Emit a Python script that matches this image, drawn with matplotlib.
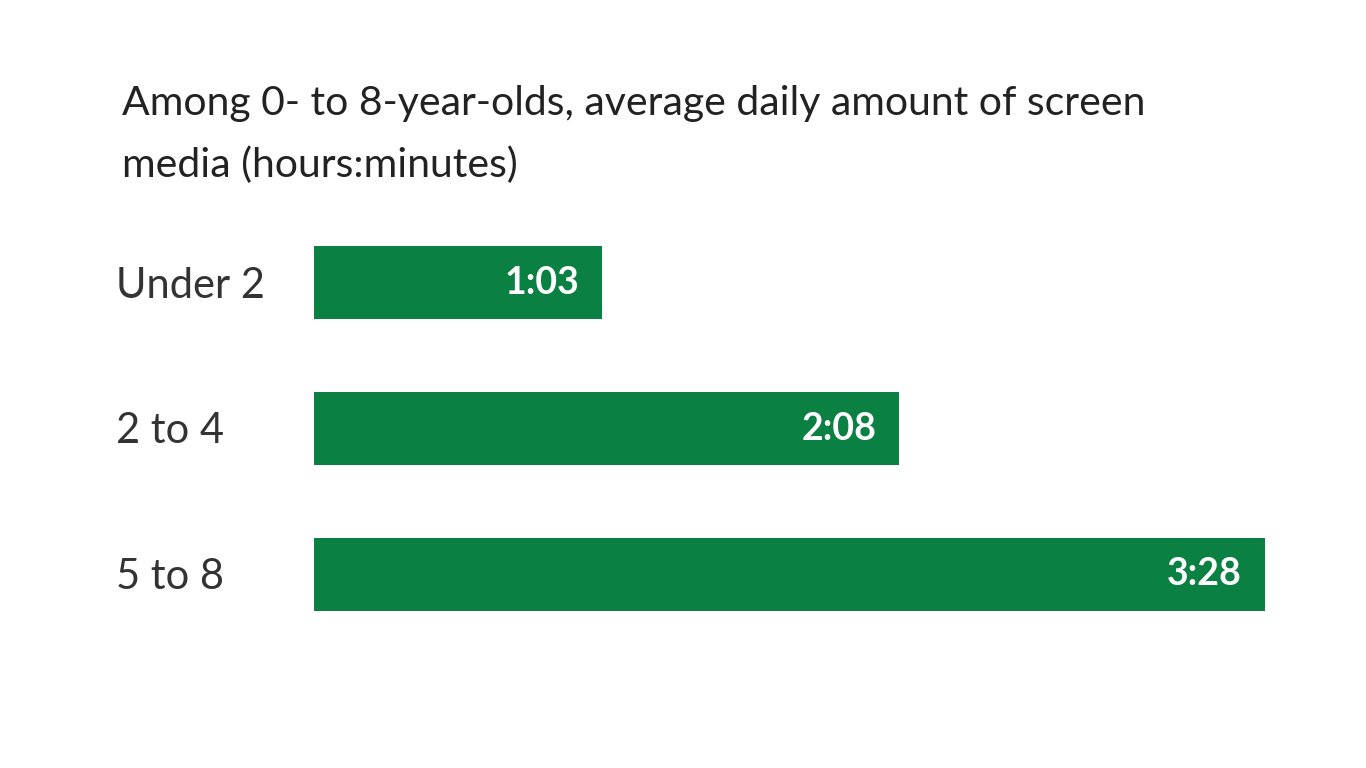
import matplotlib
matplotlib.use('Agg')
import matplotlib.pyplot as plt

# data
categories = ['Under 2', '2 to 4', '5 to 8']
minutes = [63, 128, 208]
labels = ['1:03', '2:08', '3:28']

plt.rcParams['font.family'] = 'Lato'
fig = plt.figure(figsize=(13.66, 7.68), dpi=100)
ax = fig.add_axes([314 / 1366, 1 - 647 / 768, (1265 - 314) / 1366, (647 - 210) / 768])

ax.barh(range(len(categories)), minutes, height=0.5, color='#0a8042')
ax.set_ylim(2.5, -0.5)
ax.set_xlim(0, max(minutes))
for i, (v, t) in enumerate(zip(minutes, labels)):
    ax.text(v - 5, i, t, color='white', fontsize=27, fontweight='bold', ha='right', va='center')
for i, c in enumerate(categories):
    ax.text(-43.3, i + 0.02, c, color='#333333', fontsize=30, ha='left', va='center')

ax.axis('off')
fig.text(122 / 1366, 1 - 104 / 768, 'Among 0- to 8-year-olds, average daily amount of screen',
         fontsize=29.5, color='#222222', va='center')
fig.text(122 / 1366, 1 - 165 / 768, 'media (hours:minutes)', fontsize=29.5, color='#222222', va='center')

fig.savefig('out.png', dpi=100, facecolor='white')
